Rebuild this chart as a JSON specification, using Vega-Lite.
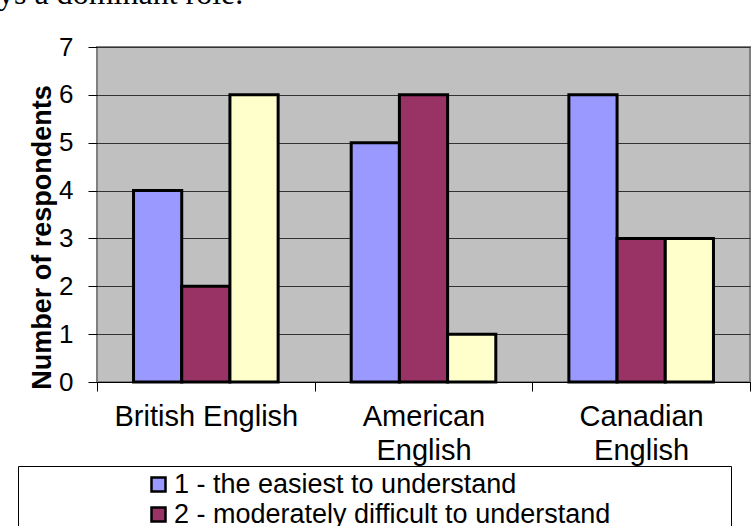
{
  "$schema": "https://vega.github.io/schema/vega-lite/v6.json",
  "autosize": "none",
  "width": 653,
  "height": 335,
  "padding": {"left": 97, "top": 47, "right": 4, "bottom": 144},
  "background": "white",
  "title": {
    "text": "ys a dominant role.",
    "anchor": "start",
    "frame": "group",
    "orient": "top",
    "font": "Liberation Serif",
    "fontSize": 32,
    "fontWeight": "normal",
    "color": "black",
    "baseline": "alphabetic",
    "offset": -2,
    "dx": -99
  },
  "data": {
    "values": [
      {"variety": "British English", "rating": "1 - the easiest to understand", "respondents": 4},
      {"variety": "British English", "rating": "2 - moderately difficult to understand", "respondents": 2},
      {"variety": "British English", "rating": "3 - the most difficult to understand", "respondents": 6},
      {"variety": "American English", "rating": "1 - the easiest to understand", "respondents": 5},
      {"variety": "American English", "rating": "2 - moderately difficult to understand", "respondents": 6},
      {"variety": "American English", "rating": "3 - the most difficult to understand", "respondents": 1},
      {"variety": "Canadian English", "rating": "1 - the easiest to understand", "respondents": 6},
      {"variety": "Canadian English", "rating": "2 - moderately difficult to understand", "respondents": 3},
      {"variety": "Canadian English", "rating": "3 - the most difficult to understand", "respondents": 3}
    ]
  },
  "mark": {"type": "bar", "stroke": "black", "strokeWidth": 3},
  "encoding": {
    "x": {
      "field": "variety",
      "type": "nominal",
      "sort": ["British English", "American English", "Canadian English"],
      "scale": {"paddingInner": 0, "paddingOuter": 0},
      "axis": {
        "title": null,
        "labelAngle": 0,
        "tickBand": "extent",
        "labelExpr": "isValid(datum.value) ? (datum.value == 'British English' ? datum.value : split(datum.value, ' ')) : ''",
        "labelFont": "Liberation Sans",
        "labelFontSize": 29,
        "labelColor": "black",
        "labelLineHeight": 34,
        "labelPadding": 11,
        "labelBaseline": "top",
        "labelLimit": 300,
        "tickSize": 9,
        "tickColor": "black",
        "domainColor": "black",
        "domainWidth": 1,
        "grid": false
      }
    },
    "xOffset": {
      "field": "rating",
      "type": "nominal",
      "scale": {"paddingInner": 0, "paddingOuter": 0.758}
    },
    "y": {
      "field": "respondents",
      "type": "quantitative",
      "scale": {"domain": [0, 7], "nice": false},
      "axis": {
        "title": "Number of respondents",
        "titleFont": "Liberation Sans",
        "titleFontSize": 27,
        "titleFontWeight": "bold",
        "titleColor": "black",
        "titleY": 190,
        "titleX": -55,
        "titleBaseline": "middle",
        "values": [0, 1, 2, 3, 4, 5, 6, 7],
        "labelFont": "Liberation Sans",
        "labelFontSize": 26,
        "labelColor": "black",
        "labelPadding": 15,
        "tickSize": 9,
        "tickColor": "black",
        "domain": false,
        "grid": true,
        "gridColor": "#333333",
        "gridWidth": 1,
        "gridOpacity": 1
      }
    },
    "fill": {
      "field": "rating",
      "type": "nominal",
      "scale": {
        "domain": ["1 - the easiest to understand", "2 - moderately difficult to understand", "3 - the most difficult to understand"],
        "range": ["#9999FF", "#993366", "#FFFFCC"]
      },
      "legend": {
        "title": null,
        "orient": "none",
        "legendX": -79,
        "legendY": 419,
        "direction": "vertical",
        "padding": 5,
        "strokeColor": "black",
        "fillColor": "white",
        "symbolType": "square",
        "symbolSize": 196,
        "symbolStrokeColor": "black",
        "symbolStrokeWidth": 2.5,
        "symbolOpacity": 1,
        "symbolOffset": 122,
        "labelOffset": 2,
        "labelFont": "Liberation Sans",
        "labelFontSize": 27,
        "labelColor": "black",
        "labelLimit": 900,
        "rowPadding": 2,
        "labelExpr": "datum.label + '\u2800\u00a0\u00a0\u2800\u2800\u2800\u2800'"
      }
    }
  },
  "config": {
    "view": {"fill": "#C0C0C0", "stroke": "#808080", "strokeWidth": 2}
  }
}
